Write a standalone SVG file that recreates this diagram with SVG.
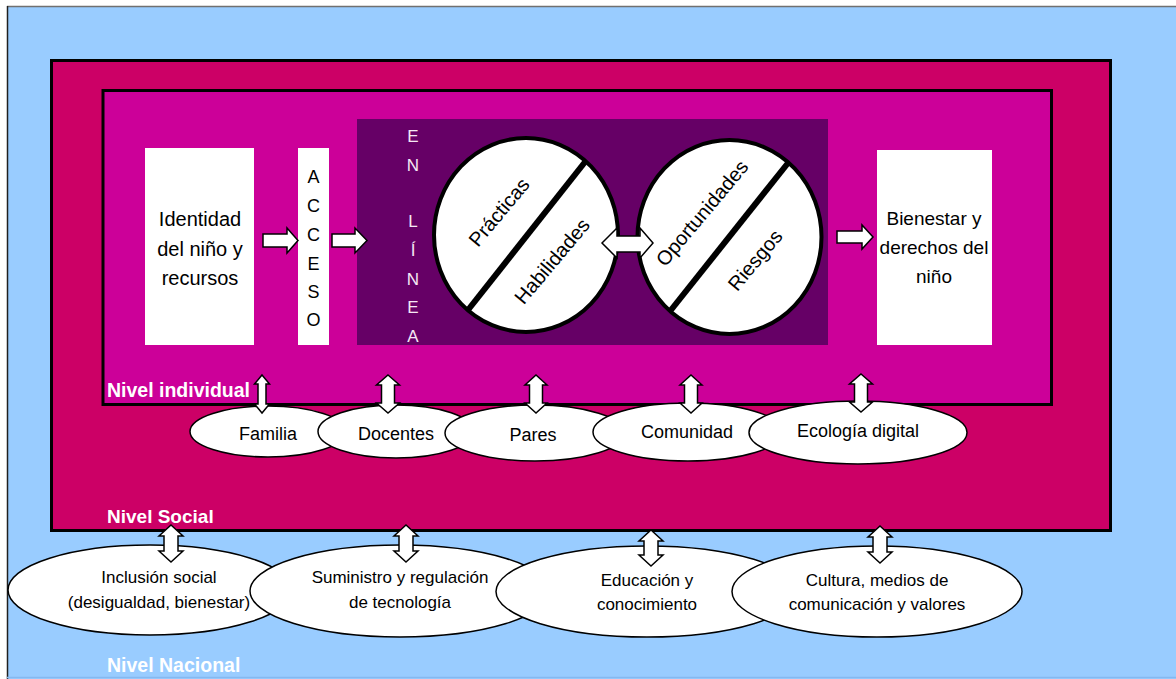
<svg xmlns="http://www.w3.org/2000/svg" width="1176" height="679" viewBox="0 0 1176 679">
<style>
.lvl{font-family:"Liberation Sans",Arial,sans-serif;font-weight:bold;fill:#ffffff}
.t{font-family:"Liberation Sans",Arial,sans-serif;fill:#000000;text-anchor:middle}
.lt{font-family:"Liberation Sans",Arial,sans-serif;fill:#f5e8f5;text-anchor:middle;font-size:17px}
.box{fill:#ffffff}
.ell{fill:#ffffff;stroke:#000000;stroke-width:1.5}
.arr{fill:#ffffff;stroke:#000000;stroke-width:1.5;stroke-linejoin:miter}
.circ{fill:#ffffff;stroke:#000000;stroke-width:4}
.div{stroke:#000000;stroke-width:6}
</style>
<rect x="0" y="0" width="1176" height="679" fill="#ffffff"/>
<g id="nivel-nacional">
<rect x="7" y="7" width="1169" height="672" fill="#99CCFF"/>
<line x1="7" y1="6.5" x2="1176" y2="6.5" stroke="#707070" stroke-width="1.5"/>
<line x1="7.5" y1="6" x2="7.5" y2="679" stroke="#202020" stroke-width="1.5"/>
<line x1="7" y1="677.5" x2="1176" y2="677.5" stroke="#86B8F0" stroke-width="1.5"/>
<text class="lvl" x="107" y="672" font-size="19.5">Nivel Nacional</text>
</g>
<g id="nivel-social">
<rect x="51.5" y="60.5" width="1059" height="470" fill="#CC0066" stroke="#000000" stroke-width="3"/>
<text class="lvl" x="107" y="523" font-size="19">Nivel Social</text>
</g>
<g id="nivel-individual">
<rect x="103" y="90.5" width="948.5" height="314" fill="#CC0099" stroke="#000000" stroke-width="3"/>
<text class="lvl" x="107" y="397" font-size="19.5">Nivel individual</text>
</g>
<g id="en-linea">
<rect x="357" y="119" width="471" height="226" fill="#660066"/>
<text class="lt" x="413" y="142">E</text>
<text class="lt" x="413" y="171">N</text>
<text class="lt" x="413" y="227">L</text>
<text class="lt" x="413" y="256">Í</text>
<text class="lt" x="413" y="285">N</text>
<text class="lt" x="413" y="313">E</text>
<text class="lt" x="413" y="342">A</text>
</g>
<g id="identidad">
<rect class="box" x="145" y="148" width="109" height="197"/>
<text class="t" font-size="20" x="200" y="226">Identidad</text>
<text class="t" font-size="20" x="200" y="256">del niño y</text>
<text class="t" font-size="20" x="200" y="285">recursos</text>
</g>
<g id="acceso">
<rect class="box" x="298" y="148" width="31" height="197"/>
<text class="t" font-size="18" x="313.5" y="183">A</text>
<text class="t" font-size="18" x="313.5" y="212">C</text>
<text class="t" font-size="18" x="313.5" y="241">C</text>
<text class="t" font-size="18" x="313.5" y="270">E</text>
<text class="t" font-size="18" x="313.5" y="298">S</text>
<text class="t" font-size="18" x="313.5" y="326">O</text>
</g>
<g id="bienestar">
<rect class="box" x="877" y="150" width="115" height="195"/>
<text class="t" font-size="19" x="934" y="225">Bienestar y</text>
<text class="t" font-size="19" x="934" y="254">derechos del</text>
<text class="t" font-size="19" x="934" y="283">niño</text>
</g>
<g id="practicas-habilidades">
<ellipse class="circ" cx="526" cy="235" rx="92" ry="97"/>
<line class="div" x1="585" y1="162" x2="468" y2="310"/>
<text class="t" font-size="20" transform="translate(499 212) rotate(-50)" dy="0.35em">Prácticas</text>
<text class="t" font-size="20" transform="translate(552 261) rotate(-50)" dy="0.35em">Habilidades</text>
</g>
<g id="oportunidades-riesgos">
<ellipse class="circ" cx="729.5" cy="237" rx="92" ry="97"/>
<line class="div" x1="788" y1="163" x2="671" y2="310"/>
<text class="t" font-size="20" transform="translate(702 213) rotate(-50)" dy="0.35em">Oportunidades</text>
<text class="t" font-size="20" transform="translate(755 260) rotate(-50)" dy="0.35em">Riesgos</text>
</g>
<g id="social-nodes">
<g id="familia"><ellipse class="ell" cx="268" cy="431.5" rx="78" ry="25.5"/><text class="t" font-size="18" x="268" y="440">Familia</text></g>
<g id="docentes"><ellipse class="ell" cx="396" cy="431.5" rx="78" ry="26.5"/><text class="t" font-size="18" x="396" y="440">Docentes</text></g>
<g id="pares"><ellipse class="ell" cx="535" cy="433" rx="90" ry="28"/><text class="t" font-size="18" x="533" y="441">Pares</text></g>
<g id="comunidad"><ellipse class="ell" cx="688" cy="432" rx="95" ry="29"/><text class="t" font-size="18" x="687" y="438">Comunidad</text></g>
<g id="ecologia"><ellipse class="ell" cx="858" cy="432.5" rx="109" ry="31.5"/><text class="t" font-size="18" x="858" y="437">Ecología digital</text></g>
</g>
<g id="national-nodes">
<g id="inclusion"><ellipse class="ell" cx="150" cy="590" rx="142" ry="45"/><text class="t" font-size="17" x="159" y="583">Inclusión social</text><text class="t" font-size="17" x="159" y="608">(desigualdad, bienestar)</text></g>
<g id="suministro"><ellipse class="ell" cx="400" cy="591" rx="150" ry="46"/><text class="t" font-size="17" x="400" y="583">Suministro y regulación</text><text class="t" font-size="17" x="400" y="608">de tecnología</text></g>
<g id="educacion"><ellipse class="ell" cx="647" cy="591.5" rx="151" ry="45.5"/><text class="t" font-size="17" x="647" y="586">Educación y</text><text class="t" font-size="17" x="647" y="610">conocimiento</text></g>
<g id="cultura"><ellipse class="ell" cx="877" cy="591.5" rx="145" ry="45.5"/><text class="t" font-size="17" x="877" y="586">Cultura, medios de</text><text class="t" font-size="17" x="877" y="610">comunicación y valores</text></g>
</g>
<g id="connectors">
<polygon class="arr" points="263,234 287,234 287,228 298,240.5 287,253 287,247 263,247"/>
<polygon class="arr" points="332,234 355,234 355,228 367,240.5 355,253 355,247 332,247"/>
<polygon class="arr" points="837,231 862,231 862,225 873,237 862,249 862,243 837,243"/>
<polygon class="arr" points="602,243 617,228 617,236 640,236 640,228 653,243 640,258 640,252 617,252 617,258"/>
<polygon class="arr" points="262,375 269.5,384 266,384 266,404 269.5,404 262,413 254.5,404 258,404 258,384 254.5,384"/>
<polygon class="arr" points="388,375 399.5,385 394.5,385 394.5,403 399.5,403 388,413 376.5,403 381.5,403 381.5,385 376.5,385"/>
<polygon class="arr" points="536,375 547,385 542.5,385 542.5,403 547,403 536,413 525,403 529.5,403 529.5,385 525,385"/>
<polygon class="arr" points="691,375 702,385 697.5,385 697.5,403 702,403 691,413 680,403 684.5,403 684.5,385 680,385"/>
<polygon class="arr" points="861,374 872.5,384 867.5,384 867.5,402 872.5,402 861,412 849.5,402 854.5,402 854.5,384 849.5,384"/>
<polygon class="arr" points="171,525 183,536 178,536 178,551 183,551 171,562 159,551 164,551 164,536 159,536"/>
<polygon class="arr" points="406,525 418,536 413,536 413,551 418,551 406,562 394,551 399,551 399,536 394,536"/>
<polygon class="arr" points="651,530 663,541 658,541 658,555 663,555 651,566 639,555 644,555 644,541 639,541"/>
<polygon class="arr" points="880,526 892,537 887,537 887,552 892,552 880,563 868,552 873,552 873,537 868,537"/>
</g>
</svg>
